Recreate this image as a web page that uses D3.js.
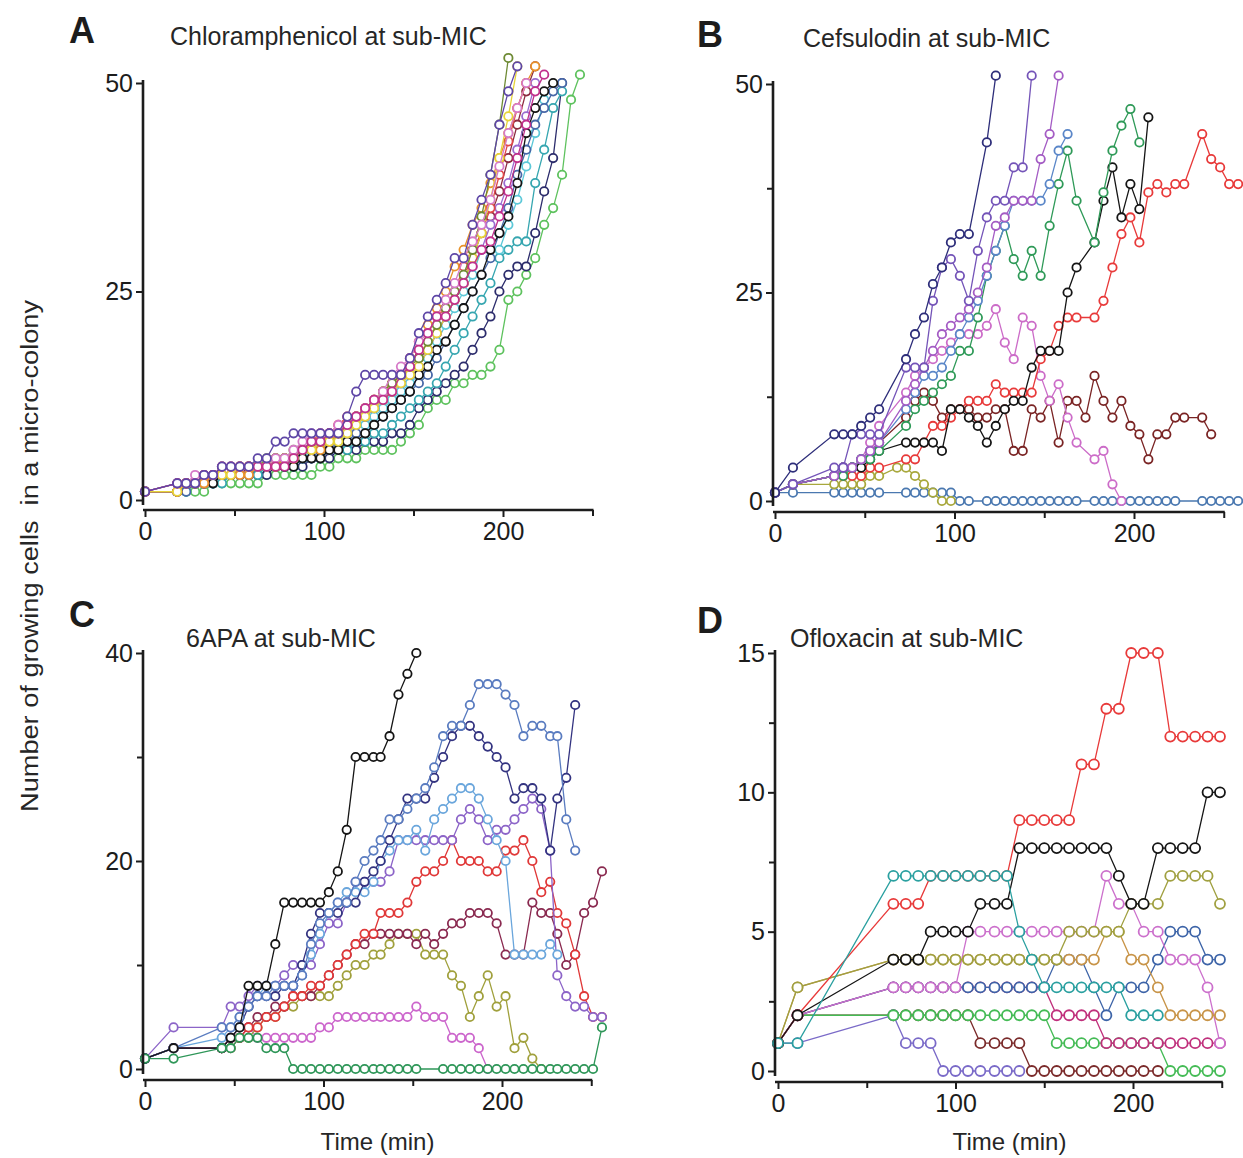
<!DOCTYPE html>
<html>
<head>
<meta charset="utf-8">
<script src="https://cdn.jsdelivr.net/npm/d3@7"></script>
<style>
  body { margin: 0; background: #fff; }
  svg { display: block; font-family: "Liberation Sans", Arial, sans-serif; }
</style>
</head>
<body>
<svg id="chart" width="1243" height="1158"></svg>
<script>
// ---------- sampling times (min) ----------
const timesA = [0,18,23,28,33,38,43,48,53,58,63,68,73,78,83,88,93,98,103,108,113,118,123,128,133,138,143,148,153,158,163,168,173,178,183,188,193,198,203,208,213,218,223,228,233,238,243];
const timesB = [0,10,33,38,43,48,53,58,63,68,73,78,83,88,93,98,103,108,113,118,123,128,133,138,143,148,153,158,163,168,173,178,183,188,193,198,203,208,213,218,223,228,233,238,243,248,253,258];
const timesC = [0,16,43,48,53,58,63,68,73,78,83,88,93,98,103,108,113,118,123,128,132,137,142,147,152,157,162,167,172,177,182,187,192,197,202,207,212,217,222,227,231,236,241,246,251,256];
const timesD = [0,11,65,72,79,86,93,100,107,114,122,129,136,143,150,157,164,171,178,185,192,199,206,214,221,228,235,242,249];

// ---------- A: chloramphenicol ----------
const aGreen   = [1,1,1,1,1,2,2,2,2,2,2,3,3,3,3,3,3,4,4,5,5,5,6,6,6,6,7,8,9,11,12,12,14,14,15,15,16,18,24,25,27,29,33,35,39,48,51];
const aNavy    = [1,2,2,2,2,2,3,3,3,3,3,3,4,4,4,4,5,5,5,6,6,6,7,7,7,8,8,9,11,12,13,14,15,16,18,20,22,25,27,28,28,32,37,41,50];
const aTeal    = [1,1,1,2,2,2,2,3,3,3,3,4,4,4,4,5,5,5,6,6,6,7,7,8,8,9,10,11,12,13,14,16,18,20,22,24,26,29,30,31,31,38,42,47,49];
const aCyan    = [1,1,2,2,2,2,3,3,3,3,4,4,4,5,5,5,6,6,7,7,8,9,9,10,11,12,13,14,15,17,19,21,23,25,27,30,30,30,33,36,40,44,48];
const aBlue    = [1,1,1,2,2,2,3,3,3,3,4,4,4,4,5,5,5,6,6,7,7,8,8,9,10,11,12,13,14,15,17,19,21,23,25,27,29,32,35,39,42,45,47,49,50];
const aBlack   = [1,1,2,2,2,2,3,3,3,3,4,4,4,4,4,5,5,5,6,6,7,7,8,9,10,11,12,13,15,16,18,19,21,23,25,27,30,32,34,38,44,47,49,50];
const aMaroon  = [1,1,2,2,2,3,3,3,3,4,4,4,5,5,5,6,6,7,7,8,9,10,10,11,12,13,14,15,17,18,20,22,24,26,29,32,34,37,41,45,49,52];
const aViolet  = [1,1,2,2,2,3,3,3,3,3,4,4,4,5,5,6,6,7,7,8,8,9,10,11,12,13,14,15,16,18,20,22,24,26,28,30,33,35,38,42,46,50];
const aRed     = [1,1,2,2,2,3,3,3,4,4,4,4,4,5,5,6,7,8,8,9,10,10,11,12,13,14,15,16,18,20,22,23,25,28,30,32,35,39,43,47,50];
const aOrange  = [1,1,2,2,2,3,3,3,3,3,4,4,4,5,5,6,6,6,7,8,9,10,11,12,13,14,15,17,19,21,23,25,28,30,33,35,38,41,44,47,50,52];
const aYellow  = [1,1,2,2,3,3,3,3,4,4,4,4,5,5,5,6,6,7,7,7,8,9,10,11,12,13,14,15,16,18,20,22,24,26,29,32,36,41,46,52];
const aOlive   = [1,2,2,2,3,3,4,4,4,4,4,5,5,5,6,6,7,7,8,8,9,10,11,12,13,14,15,16,17,19,21,23,25,27,30,34,39,45,53];
const aPink    = [1,2,2,3,3,3,4,4,4,4,4,4,5,5,6,7,8,8,8,9,9,10,11,12,13,15,16,17,19,20,22,24,26,29,31,33,36,40,44,47,50];
const aMagenta = [1,2,2,2,3,3,4,4,4,4,4,4,4,4,5,6,7,7,8,8,9,10,11,12,12,13,15,16,18,20,22,22,24,26,28,30,31,34,37,41,45,49,51];
const aPurple  = [1,2,2,2,3,3,4,4,4,4,5,5,7,7,8,8,8,8,8,8,10,13,15,15,15,15,15,17,20,22,24,26,29,29,33,36,39,45,49,52];

// ---------- B: cefsulodin ----------
const bBlue   = [1,1,1,1,1,1,1,1,null,null,1,1,1,1,1,1,0,0,null,0,0,0,0,0,0,0,0,0,0,0,null,0,0,0,0,0,0,0,0,0,0,null,null,0,0,0,0,0];
const bOlive  = [1,2,2,2,2,2,3,3,null,4,4,3,2,1,0,0];
const bMaroon = [1,2,3,4,4,5,6,7,null,null,10,12,13,12,10,11,11,11,10,10,11,11,6,6,11,10,12,7,12,12,10,15,12,10,12,9,8,5,8,8,10,10,null,10,8];
const bPink   = [1,2,3,4,4,5,7,9,null,null,13,15,16,17,18,19,20,20,20,21,23,19,17,22,21,15,12,14,10,7,null,5,6,2,0];
const bRed    = [1,2,3,3,3,3,4,4,null,null,5,5,7,9,9,10,11,12,12,12,14,13,13,13,13,17,18,21,22,22,null,22,24,28,32,34,31,37,38,37,38,38,null,44,41,40,38,38];
const bBlack  = [1,2,3,4,4,4,5,6,null,null,7,7,7,7,6,11,11,10,9,7,9,11,12,12,16,18,18,18,25,28,null,31,36,40,34,38,35,46];
const bGreen  = [1,2,3,3,4,5,5,6,null,null,9,11,12,13,14,15,18,18,22,27,30,33,29,27,30,27,33,38,42,36,null,31,37,42,45,47,43];
const bSteel  = [1,2,3,4,4,5,6,7,null,null,11,13,15,15,16,18,20,22,24,27,30,33,36,36,36,36,38,42,44];
const bViolet = [1,2,3,4,4,5,6,7,null,null,12,14,16,18,20,21,22,23,25,28,33,34,36,36,36,41,44,51];
const bPurple = [1,2,4,4,8,8,8,8,null,null,16,16,16,24,28,29,27,24,30,34,36,36,40,40,51];
const bNavy   = [1,4,8,8,8,9,10,11,null,null,17,20,22,26,28,31,32,32,null,43,51];

// ---------- C: 6APA ----------
const cPink   = [1,2,2,2,3,4,3,3,3,3,3,3,3,4,4,5,5,5,5,5,5,5,5,5,6,5,5,5,3,3,3,2,0];
const cOlive  = [1,2,2,2,3,3,4,5,5,6,6,7,7,7,7,8,9,10,10,11,11,12,13,13,13,11,11,11,9,8,5,7,9,6,7,2,3,1,0];
const cMaroon = [1,2,2,3,3,4,5,5,6,6,7,7,7,8,9,10,11,12,12,13,13,13,13,13,12,13,12,13,14,14,15,15,15,14,11,11,11,16,15,15,13,10,11,15,16,19];
const cRed    = [1,2,2,3,3,4,4,5,5,6,7,7,8,8,9,10,11,12,13,13,15,15,15,16,18,19,19,20,22,20,20,20,19,19,21,21,22,20,17,18,15,14,11,7,5,5];
const cPurple = [1,4,4,6,6,7,8,8,8,9,10,10,10,12,14,14,16,18,18,18,18,19,22,22,22,22,22,22,22,24,25,24,22,23,23,24,25,26,25,21,9,7,6,6,5,5];
const cLight  = [1,2,3,4,5,6,7,8,8,8,8,9,11,13,15,16,17,17,17,18,20,21,22,22,23,21,24,25,26,27,27,26,24,22,20,11,11,11,11,12,11];
const cNavy   = [1,2,2,3,4,6,7,7,7,8,8,10,13,15,15,15,16,16,18,19,20,22,24,26,26,26,28,30,32,33,33,32,31,30,29,26,27,27,26,21,26,28,35];
const cSteel  = [1,2,4,4,5,6,7,7,8,8,8,9,12,14,15,16,16,18,20,21,22,24,24,25,26,27,29,32,33,33,35,37,37,37,36,35,32,33,33,32,32,24,21];
const cBlack  = [1,2,2,3,4,8,8,8,12,16,16,16,16,16,17,19,23,30,30,30,30,32,36,38,40];
const cGreen  = [1,1,2,2,3,3,3,2,2,2,0,0,0,0,0,0,0,0,0,0,0,0,0,0,0,null,null,0,0,0,0,0,0,0,0,0,0,0,0,0,0,0,0,0,0,4];

// ---------- D: ofloxacin ----------
const dMaroon  = [1,2,2,2,2,2,2,2,2,1,1,1,1,0,0,0,0,0,0,0,0,0,0,0];
const dPurple  = [1,1,2,1,1,1,0,0,0,0,0,0,0];
const dGreen   = [1,2,2,2,2,2,2,2,2,2,2,2,2,2,2,1,1,1,1,1,1,1,1,1,0,0,0,0,0];
const dMagenta = [1,2,3,3,3,3,3,3,3,3,3,3,3,3,3,2,2,2,2,1,1,1,1,1,1,1,1,1,1];
const dBlue    = [1,2,3,3,3,3,3,3,3,3,3,3,3,3,3,4,4,4,3,2,3,3,3,4,5,5,5,4,4];
const dPink    = [1,2,3,3,3,3,3,3,5,5,5,5,5,5,5,5,5,5,5,7,6,6,5,5,4,4,4,3,1];
const dOrange  = [1,3,4,4,4,4,4,4,4,4,4,4,4,4,4,4,4,4,4,5,5,4,4,3,2,2,2,2,2];
const dOlive   = [1,3,4,4,4,4,4,4,4,4,4,4,4,4,4,4,5,5,5,5,5,6,6,6,7,7,7,7,6];
const dRed     = [1,2,6,6,6,7,7,7,7,7,7,7,9,9,9,9,9,11,11,13,13,15,15,15,12,12,12,12,12];
const dBlack   = [1,2,4,4,4,5,5,5,5,6,6,6,8,8,8,8,8,8,8,8,7,6,6,8,8,8,8,10,10];
const dTeal    = [1,1,7,7,7,7,7,7,7,7,7,7,5,4,3,3,3,3,3,3,3,2,2,2];

// ---------- axis ticks ----------
const xTickValues = [0, 100, 200];
const xMinorTicks = [50, 150, 250];

// ---------- panel layout and styling ----------
const panels = [
  { letter: "A", title: "Chloramphenicol at sub-MIC", times: timesA,
    series: [[aGreen,"#5ec25e"],[aNavy,"#2c2c6c"],[aTeal,"#36a6b0"],[aCyan,"#5cc8d8"],[aBlue,"#4868a8"],
             [aBlack,"#151515"],[aMaroon,"#8c2a40"],[aViolet,"#9a6cd0"],[aRed,"#e04848"],[aOrange,"#e8922a"],
             [aYellow,"#e6d43a"],[aOlive,"#6e8a34"],[aPink,"#d67ac8"],[aMagenta,"#c0308c"],[aPurple,"#5e46a6"]],
    x: [145, 592.5], y: [500, 83], yMax: 50, axX: 143, axY: 510,
    yMajor: [0, 25, 50], yMinor: [], r: 4.2,
    letterPos: [69, 43], titlePos: [170, 45], xLabel: false },
  { letter: "B", title: "Cefsulodin at sub-MIC", times: timesB,
    series: [[bBlue,"#4a78b0"],[bOlive,"#a8a83c"],[bMaroon,"#7a2424"],[bPink,"#cc6cc8"],[bRed,"#e83a3a"],
             [bBlack,"#151515"],[bGreen,"#2f9a58"],[bSteel,"#5a86c8"],[bViolet,"#a45cc4"],[bPurple,"#7454b8"],[bNavy,"#2e2e7a"]],
    x: [775, 1223.75], y: [501, 84], yMax: 50, axX: 773, axY: 512,
    yMajor: [0, 25, 50], yMinor: [12.5, 37.5], r: 4.2,
    letterPos: [697, 47], titlePos: [803, 47], xLabel: false },
  { letter: "C", title: "6APA at sub-MIC", times: timesC,
    series: [[cPink,"#cc66cc"],[cOlive,"#a0a03c"],[cMaroon,"#8a2a50"],[cRed,"#e03838"],[cPurple,"#8c64c8"],
             [cLight,"#6aa6dc"],[cNavy,"#333380"],[cSteel,"#5a7cc0"],[cBlack,"#151515"],[cGreen,"#2e9658"]],
    x: [145, 591.25], y: [1069, 653], yMax: 40, axX: 143, axY: 1080,
    yMajor: [0, 20, 40], yMinor: [10, 30], r: 4.2,
    letterPos: [69, 627], titlePos: [186, 647], xLabel: true },
  { letter: "D", title: "Ofloxacin at sub-MIC", times: timesD,
    series: [[dMaroon,"#7a2a2a"],[dPurple,"#7a6ac8"],[dGreen,"#44bb55"],[dMagenta,"#c0307c"],[dBlue,"#3d64a8"],
             [dPink,"#cc70cc"],[dOrange,"#c89448"],[dOlive,"#a0a040"],[dRed,"#e83a3a"],[dBlack,"#151515"],[dTeal,"#2aa0a0"]],
    x: [778, 1221.75], y: [1071, 653], yMax: 15, axX: 775, axY: 1082,
    yMajor: [0, 5, 10, 15], yMinor: [2.5, 7.5, 12.5], r: 5,
    letterPos: [697, 633], titlePos: [790, 647], xLabel: true }
];

const svg = d3.select("#chart");
const ink = "#1c1c1c";

panels.forEach(p => {
  const g = svg.append("g");
  const xs = d3.scaleLinear().domain([0, 250]).range(p.x);
  const ys = d3.scaleLinear().domain([0, p.yMax]).range(p.y);

  // series: line first, then open circles, so later series sit on top
  p.series.forEach(([vals, color]) => {
    const pts = vals.map((v, i) => ({ t: p.times[i], v }))
                    .filter(d => d.v !== null && d.v !== undefined);
    g.append("path")
      .datum(pts)
      .attr("fill", "none")
      .attr("stroke", color)
      .attr("stroke-width", 1.3)
      .attr("d", d3.line().x(d => xs(d.t)).y(d => ys(d.v)));
    g.selectAll(null)
      .data(pts)
      .join("circle")
      .attr("cx", d => xs(d.t))
      .attr("cy", d => ys(d.v))
      .attr("r", p.r)
      .attr("fill", "#fff")
      .attr("stroke", color)
      .attr("stroke-width", 1.8);
  });

  // y axis
  const yAxisG = g.append("g").attr("transform", `translate(${p.axX},0)`);
  yAxisG.call(d3.axisLeft(ys).tickValues(p.yMajor).tickSize(7).tickPadding(3).tickFormat(d3.format("d")));
  if (p.yMinor.length) {
    g.append("g").attr("transform", `translate(${p.axX},0)`)
      .call(d3.axisLeft(ys).tickValues(p.yMinor).tickSize(6).tickFormat(""))
      .call(s => s.select(".domain").remove())
      .selectAll("line").attr("stroke", ink).attr("stroke-width", 2);
  }
  yAxisG.select(".domain").remove();
  yAxisG.selectAll("line").attr("stroke", ink).attr("stroke-width", 2);
  yAxisG.selectAll("text").attr("font-size", 25).attr("fill", ink)
    .attr("font-family", "Liberation Sans, Arial, sans-serif");
  g.append("line")
    .attr("x1", p.axX).attr("x2", p.axX)
    .attr("y1", ys(p.yMax) - 3).attr("y2", ys(0) + 5)
    .attr("stroke", ink).attr("stroke-width", 2.6);

  // x axis
  const xAxisG = g.append("g").attr("transform", `translate(0,${p.axY})`);
  xAxisG.call(d3.axisBottom(xs).tickValues(xTickValues).tickSize(7).tickPadding(5).tickFormat(d3.format("d")));
  g.append("g").attr("transform", `translate(0,${p.axY})`)
    .call(d3.axisBottom(xs).tickValues(xMinorTicks).tickSize(6).tickFormat(""))
    .call(s => s.select(".domain").remove())
    .selectAll("line").attr("stroke", ink).attr("stroke-width", 2);
  xAxisG.select(".domain").remove();
  xAxisG.selectAll("line").attr("stroke", ink).attr("stroke-width", 2);
  xAxisG.selectAll("text").attr("font-size", 25).attr("fill", ink)
    .attr("font-family", "Liberation Sans, Arial, sans-serif");
  g.append("line")
    .attr("x1", p.axX).attr("x2", xs(250) + 1)
    .attr("y1", p.axY).attr("y2", p.axY)
    .attr("stroke", ink).attr("stroke-width", 2.6);

  // panel letter and title
  g.append("text")
    .attr("x", p.letterPos[0]).attr("y", p.letterPos[1])
    .attr("font-size", 36).attr("font-weight", "bold").attr("fill", ink)
    .text(p.letter);
  g.append("text")
    .attr("x", p.titlePos[0]).attr("y", p.titlePos[1])
    .attr("font-size", 25).attr("fill", "#262626")
    .text(p.title);

  if (p.xLabel) {
    g.append("text")
      .attr("x", (p.x[0] + xs(200)) / 2 + 54).attr("y", 1150)
      .attr("text-anchor", "middle")
      .attr("font-size", 24).attr("fill", "#262626")
      .text("Time (min)");
  }
});

// shared y-axis label
svg.append("text")
  .attr("transform", "translate(38,556) rotate(-90)")
  .attr("text-anchor", "middle")
  .attr("font-size", 23)
  .attr("fill", "#262626")
  .style("white-space", "pre")
  .attr("textLength", 512)
  .attr("lengthAdjust", "spacingAndGlyphs")
  .text("Number of growing cells  in a micro-colony");
</script>
</body>
</html>
